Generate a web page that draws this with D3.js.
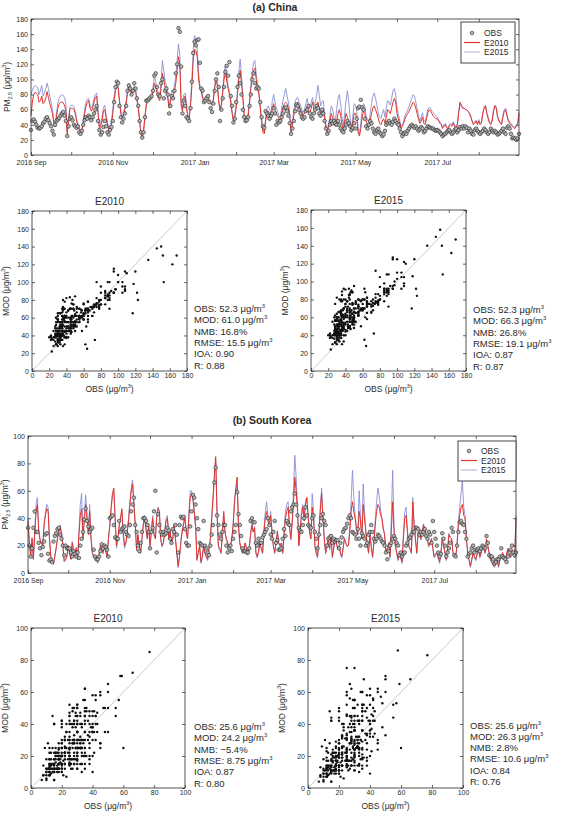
<!DOCTYPE html>
<html>
<head>
<meta charset="utf-8">
<script src="https://cdnjs.cloudflare.com/ajax/libs/d3/7.8.5/d3.min.js"></script>
<style>
  body { margin: 0; background: #fff; }
</style>
</head>
<body>
<svg id="fig" width="567" height="813"></svg>
<script>
// daily values, 2016-09-01 .. 2017-08-31 (one line per month)
const cnObs = [
  33,45,47,44,40,36,35,36,38,42,44,48,50,46,42,38,32,27,40,45,47,49,52,55,57,52,45,25,38,48,
  50,46,40,38,36,38,30,28,32,40,46,50,48,52,50,46,50,55,60,65,45,33,27,30,37,45,38,30,27,33,37,
  45,70,90,97,95,65,50,43,48,55,65,85,92,88,80,85,95,88,75,65,45,30,23,30,50,72,72,74,76,78,
  85,105,108,90,80,78,95,100,75,85,88,80,55,65,78,75,85,108,120,168,163,117,55,72,65,50,48,45,62,97,135,
  150,145,152,153,122,88,85,70,72,75,78,70,62,57,68,85,100,108,90,45,60,75,90,110,118,105,123,78,65,43,48,
  70,90,105,95,80,60,50,45,46,50,65,80,100,108,95,88,90,88,70,50,38,36,58,55,52,48,52,55,
  62,55,40,45,43,45,50,55,62,63,58,52,42,28,35,45,58,67,65,60,55,50,48,50,58,60,65,55,50,48,55,
  60,65,62,55,52,60,55,45,35,28,32,40,45,42,45,42,40,45,40,35,32,30,35,40,45,42,38,33,36,42,
  35,48,62,64,73,63,60,48,38,35,40,45,42,35,30,28,33,35,30,28,25,27,32,40,43,45,42,40,44,48,45,
  42,40,35,30,25,28,30,28,32,35,38,40,38,36,38,35,32,34,37,35,30,32,35,38,37,36,35,35,33,32,
  33,32,30,28,25,27,28,30,32,33,30,28,30,33,35,30,33,37,35,38,35,38,36,30,35,32,28,27,33,35,32,
  30,28,30,32,35,33,30,28,30,35,32,30,32,30,27,28,30,32,35,30,28,36,38,35,28,22,23,22,20,22,28
]
const cnE2010 = [
  52,70,80,83,82,80,70,72,78,68,70,75,84,76,68,62,55,42,37,50,62,68,70,70,69,66,58,28,44,60,
  62,62,60,55,45,38,34,30,32,42,55,64,70,72,62,58,62,70,76,78,55,35,38,45,58,60,50,40,33,36,40,
  55,72,85,92,88,70,55,48,52,60,68,82,90,86,80,82,88,84,72,62,45,28,22,32,50,66,72,74,76,78,
  82,95,90,82,75,72,88,108,100,90,85,75,62,70,80,76,85,95,112,130,120,65,58,75,78,62,50,48,65,92,125,
  140,138,130,100,88,84,75,70,73,76,74,72,68,66,72,88,100,92,70,60,65,82,100,110,98,88,80,70,55,45,50,
  62,80,100,112,95,75,52,45,44,52,68,88,100,112,115,100,88,80,62,45,30,28,45,55,58,55,50,62,
  68,60,55,52,48,45,55,62,68,70,68,62,50,30,40,52,62,68,70,64,60,55,52,56,60,64,58,55,62,70,60,
  62,66,70,62,55,58,60,48,35,30,38,45,55,50,42,38,45,55,60,52,40,35,45,55,50,45,38,30,42,55,
  55,48,30,25,35,50,58,55,45,40,38,45,55,62,65,60,55,48,42,40,45,48,42,50,60,58,55,62,70,75,70,
  55,48,42,35,38,42,48,52,55,58,62,66,70,68,62,55,48,42,45,50,42,40,48,56,60,58,55,52,50,48,
  48,45,42,40,35,38,40,36,34,38,40,38,42,38,35,40,55,70,66,62,62,60,60,58,55,50,45,40,42,45,40,
  45,40,42,55,62,65,55,48,42,40,45,58,65,62,50,45,42,40,50,58,60,52,45,42,40,38,36,35,38,40,55
]
const cnE2015 = [
  80,86,90,92,91,89,80,85,92,78,82,88,95,88,78,70,60,45,40,55,68,75,78,80,79,76,68,30,48,64,
  66,66,64,58,48,40,36,32,35,46,60,70,74,75,66,62,66,74,80,82,60,38,42,50,62,66,54,44,36,40,45,
  60,78,90,96,92,74,58,50,55,64,72,88,95,90,84,86,92,88,76,65,48,30,24,34,52,68,73,75,77,79,
  90,105,98,88,80,78,95,125,112,98,92,80,66,75,86,82,92,105,125,147,132,70,62,80,82,66,52,50,70,100,140,
  158,150,140,108,92,88,78,72,76,78,76,74,70,68,75,92,103,95,72,62,68,86,108,120,106,92,84,74,58,48,54,
  66,86,110,127,105,80,55,48,47,56,72,94,110,122,125,108,92,84,65,48,33,30,50,62,65,60,55,72,
  80,70,62,58,52,50,62,72,80,88,78,70,55,32,45,58,70,75,76,70,66,60,56,60,68,75,65,62,70,76,66,
  70,78,92,80,65,70,72,55,40,32,42,52,65,60,50,45,60,75,80,68,48,40,55,72,85,70,50,33,50,68,
  66,58,35,28,42,60,68,64,52,46,44,55,68,78,82,75,66,56,50,48,55,60,50,62,72,70,66,75,85,88,80,
  62,54,46,38,40,45,52,56,60,64,70,75,80,78,70,62,52,45,50,56,46,44,52,60,63,62,58,56,54,52,
  50,47,44,42,37,40,42,38,36,40,42,40,44,40,37,42,57,68,64,62,62,60,60,58,56,52,46,42,44,46,42,
  47,42,44,56,63,66,56,50,44,42,47,60,66,64,52,47,44,42,52,60,62,54,47,44,42,40,38,37,40,42,57
]

const krObs = [
  33,20,12,18,33,45,30,30,22,18,13,19,23,28,29,14,9,10,8,23,27,29,32,33,28,25,20,13,20,18,
  18,18,15,12,16,14,12,15,11,20,25,30,39,47,38,34,30,32,33,17,12,10,10,12,16,21,18,20,19,17,12,
  40,41,42,35,26,25,25,38,30,32,33,34,30,28,27,35,45,50,55,35,30,20,16,22,30,40,40,38,35,30,
  18,30,33,45,60,15,43,35,30,28,30,28,29,33,31,25,22,32,30,35,28,15,35,41,40,41,32,22,20,20,34,
  45,57,55,50,40,32,22,21,20,38,20,18,15,13,20,28,35,66,77,42,35,28,25,30,35,35,20,15,18,20,16,
  25,30,35,59,43,35,27,18,16,16,15,15,18,38,40,37,37,22,20,25,22,22,26,28,30,32,40,35,
  28,25,30,38,22,24,17,17,18,25,32,27,38,36,35,45,48,50,58,50,42,33,31,30,35,40,48,42,35,34,33,
  40,42,30,25,18,28,35,40,43,38,35,20,25,26,27,22,25,23,24,24,18,22,26,30,32,33,36,40,42,40,
  30,29,28,25,32,25,20,29,27,25,20,22,28,30,35,30,25,23,25,28,27,25,23,22,20,15,10,16,20,22,25,
  27,25,22,20,13,15,12,14,15,20,22,25,26,28,30,30,33,33,32,28,30,28,30,32,27,25,30,28,22,38,
  30,25,20,15,12,14,29,25,20,12,15,18,22,33,30,13,12,20,30,37,38,36,35,30,25,12,14,15,18,20,15,
  17,17,18,16,18,20,19,18,27,22,13,12,12,10,7,8,10,10,12,18,12,11,10,8,12,15,17,20,15,13,15
]
const krE2010 = [
  38,22,12,25,10,28,45,50,30,24,22,20,35,42,47,45,25,12,8,7,12,18,25,30,33,28,20,9,10,12,
  20,15,10,22,16,12,18,10,28,42,47,25,38,50,40,28,45,25,15,12,13,12,8,14,20,17,15,20,16,12,25,
  35,48,58,62,40,20,25,35,40,47,30,20,22,30,38,50,60,65,50,35,17,28,20,15,25,35,40,32,25,35,
  20,30,40,28,25,40,47,45,25,20,22,30,38,40,25,30,22,25,35,25,15,5,12,22,30,35,40,30,25,40,55,
  58,55,45,35,10,15,20,8,12,20,15,12,10,18,25,40,55,72,85,45,20,18,15,30,45,30,25,22,18,20,25,
  35,50,62,70,35,22,18,15,18,22,18,14,18,28,35,30,33,15,12,16,22,18,15,30,40,45,38,35,
  42,30,20,15,22,30,22,20,22,15,28,40,45,48,35,25,35,50,70,60,45,20,30,42,48,38,50,55,40,30,25,
  48,40,20,15,12,28,45,58,40,25,15,20,25,18,28,12,18,25,22,18,20,15,12,18,25,22,20,20,30,45,
  52,45,40,32,28,45,38,25,50,40,30,22,15,28,20,12,22,35,45,50,48,42,40,32,28,15,18,22,12,30,52,
  30,20,15,10,15,12,8,25,40,42,30,20,18,15,52,35,25,15,30,28,25,30,35,32,28,24,20,22,25,18,
  12,14,15,12,8,15,25,20,15,10,18,28,26,25,15,14,12,20,35,42,48,50,42,40,25,15,10,5,10,15,12,
  10,14,18,12,15,20,18,15,25,20,15,10,8,6,5,8,10,5,10,12,15,12,10,14,18,15,12,14,15,12,40
]
const krE2015 = [
  40,22,12,26,10,30,50,55,32,25,22,20,36,44,50,48,26,12,8,6,12,18,26,32,35,30,21,8,9,12,
  20,15,10,23,16,12,19,10,30,50,58,27,42,57,44,30,50,26,15,11,12,11,7,13,20,16,14,21,16,11,25,
  34,46,56,60,38,18,24,34,40,45,28,18,21,30,40,52,62,68,52,36,16,28,19,14,24,36,42,33,25,36,
  19,30,42,28,25,42,48,45,24,19,22,31,40,42,25,31,21,25,36,24,14,4,12,23,32,37,42,31,25,44,60,
  60,53,44,33,9,14,19,7,11,19,14,11,9,17,24,38,52,68,83,42,18,17,14,28,42,29,24,21,17,19,24,
  34,55,60,65,34,21,17,14,17,22,17,13,17,28,36,30,34,14,11,15,22,17,14,32,45,52,40,36,
  45,31,20,14,22,31,22,19,22,14,30,45,50,52,36,24,38,60,86,70,50,20,32,45,50,40,53,55,42,30,25,
  58,45,20,14,11,29,48,62,42,24,14,19,25,17,28,11,17,26,22,17,20,14,11,17,26,22,19,20,32,52,
  75,55,42,33,28,60,42,25,65,45,30,21,14,29,19,11,22,38,52,62,56,46,40,33,28,14,18,22,11,40,75,
  35,20,14,9,14,11,7,28,44,48,32,19,17,14,55,36,24,14,30,28,24,30,36,32,28,23,19,22,25,17,
  11,13,14,11,7,14,26,20,14,9,18,29,26,25,14,13,11,21,38,48,58,68,48,42,24,14,9,4,9,14,11,
  9,13,17,11,14,19,17,14,24,19,14,9,7,5,4,7,9,4,9,11,14,11,9,13,17,14,11,13,14,11,42
]

// statistics printed beside the scatter plots
const cnStats2010 = ['OBS: 52.3 μg/m^{3}', 'MOD: 61.0 μg/m^{3}', 'NMB: 16.8%', 'RMSE: 15.5 μg/m^{3}', 'IOA: 0.90', 'R: 0.88']
const cnStats2015 = ['OBS: 52.3 μg/m^{3}', 'MOD: 66.3 μg/m^{3}', 'NMB: 26.8%', 'RMSE: 19.1 μg/m^{3}', 'IOA: 0.87', 'R: 0.87']
const krStats2010 = ['OBS: 25.6 μg/m^{3}', 'MOD: 24.2 μg/m^{3}', 'NMB:  \u22125.4%', 'RMSE: 8.75 μg/m^{3}', 'IOA: 0.87', 'R: 0.80']
const krStats2015 = ['OBS: 25.6 μg/m^{3}', 'MOD: 26.3 μg/m^{3}', 'NMB: 2.8%', 'RMSE: 10.6 μg/m^{3}', 'IOA: 0.84', 'R: 0.76']

const legendNames = ['OBS', 'E2010', 'E2015']
const cnTicks = [0, 20, 40, 60, 80, 100, 120, 140, 160, 180]
const krTicks = [0, 20, 40, 60, 80, 100]

const FONT = '"Liberation Sans", Arial, Helvetica, sans-serif'
const INK = '#2a2a2a'
const RED = '#e3342b'
const BLUE = '#8a90d4'
const startDate = new Date(2016, 8, 1)
const endDate = new Date(2017, 7, 31)

const svg = d3.select('#fig')
svg.append('rect').attr('width', 567).attr('height', 813).attr('fill', '#fff')

// text with ^{sup} and _{sub} pieces
function rich(sel, str) {
  const fs = parseFloat(sel.attr('font-size'))
  let cur = 0
  str.split(/(\^\{[^}]*\}|_\{[^}]*\})/).filter(s => s.length).forEach(p => {
    let want = 0, txt = p, size = null
    if (p[0] === '^') { want = -fs * 0.42; txt = p.slice(2, -1); size = fs * 0.62 }
    if (p[0] === '_') { want = fs * 0.22; txt = p.slice(2, -1); size = fs * 0.62 }
    const t = sel.append('tspan').attr('dy', want - cur).text(txt)
    if (size) t.attr('font-size', size)
    cur = want
  })
  return sel
}

function label(x, y, str, size, anchor, weight) {
  const t = svg.append('text')
    .attr('x', x).attr('y', y)
    .attr('font-size', size)
    .attr('font-family', FONT)
    .attr('fill', INK)
    .attr('text-anchor', anchor || 'start')
  if (weight) t.attr('font-weight', weight)
  return rich(t, str)
}

function styleAxis(g) {
  g.attr('font-family', FONT).attr('font-size', 7)
  g.select('.domain').remove()
  g.selectAll('.tick line').attr('stroke', INK).attr('stroke-width', 0.7)
  g.selectAll('.tick text').attr('fill', INK)
}

function frame(l, t, r, b) {
  svg.append('rect').attr('x', l).attr('y', t).attr('width', r - l).attr('height', b - t)
    .attr('fill', 'none').attr('stroke', INK).attr('stroke-width', 0.8)
}

function drawSeries(o) {
  const x = d3.scaleTime().domain([startDate, endDate]).range([o.left, o.right])
  const y = d3.scaleLinear().domain([0, o.yMax]).range([o.bottom, o.top])
  const day = i => d3.timeDay.offset(startDate, i)
  const line = d3.line().x((d, i) => x(day(i))).y(d => y(d))

  svg.append('path').attr('d', line(o.e2015)).attr('fill', 'none')
    .attr('stroke', BLUE).attr('stroke-width', 0.9)
  svg.append('path').attr('d', line(o.e2010)).attr('fill', 'none')
    .attr('stroke', RED).attr('stroke-width', 1)
  svg.append('g').selectAll('circle').data(o.obs).join('circle')
    .attr('cx', (d, i) => x(day(i))).attr('cy', d => y(d)).attr('r', 1.8)
    .attr('fill', '#b5b5b5').attr('stroke', '#222').attr('stroke-width', 0.6)

  const months = d3.timeMonth.every(1)
  const fmt = d => d.getMonth() % 2 === 0 ? d3.timeFormat('%Y %b')(d) : ''
  svg.append('g').attr('transform', `translate(0,${o.bottom})`)
    .call(d3.axisBottom(x).ticks(months).tickFormat(fmt).tickSizeInner(-3).tickSizeOuter(0).tickPadding(5))
    .call(styleAxis)
  svg.append('g').attr('transform', `translate(0,${o.top})`)
    .call(d3.axisTop(x).ticks(months).tickFormat('').tickSizeInner(-3).tickSizeOuter(0))
    .call(styleAxis)
  svg.append('g').attr('transform', `translate(${o.left},0)`)
    .call(d3.axisLeft(y).tickValues(o.ticks).tickSizeInner(-3).tickSizeOuter(0).tickPadding(3))
    .call(styleAxis)
  svg.append('g').attr('transform', `translate(${o.right},0)`)
    .call(d3.axisRight(y).tickValues(o.ticks).tickFormat('').tickSizeInner(-3).tickSizeOuter(0))
    .call(styleAxis)
  frame(o.left, o.top, o.right, o.bottom)

  label((o.left + o.right) / 2, o.titleY, o.title, 10.5, 'middle', 'bold')
  const yl = label(0, 0, 'PM_{2.5} (μg/m^{3})', 8.5, 'middle')
  yl.attr('transform', `translate(${o.yLabelX},${(o.top + o.bottom) / 2}) rotate(-90)`)

  // legend
  const L = o.legend
  svg.append('rect').attr('x', L.x).attr('y', L.y).attr('width', L.w).attr('height', L.h)
    .attr('fill', '#fff').attr('stroke', '#444').attr('stroke-width', 1)
  legendNames.forEach((name, i) => {
    const ry = L.y + L.rows[i]
    if (i === 0) {
      svg.append('circle').attr('cx', L.x + 11).attr('cy', ry).attr('r', 1.8)
        .attr('fill', '#b5b5b5').attr('stroke', '#222').attr('stroke-width', 0.6)
    } else {
      svg.append('line').attr('x1', L.x + 3).attr('x2', L.x + 19).attr('y1', ry).attr('y2', ry)
        .attr('stroke', i === 1 ? RED : '#b9bbd6').attr('stroke-width', 1.2)
    }
    label(L.x + 23, ry + 3, name, 8.5, 'start')
  })
}

function drawScatter(o) {
  const x = d3.scaleLinear().domain([0, o.max]).range([o.left, o.right])
  const y = d3.scaleLinear().domain([0, o.max]).range([o.bottom, o.top])
  const n = Math.min(o.obs.length, o.mod.length)
  const pairs = d3.range(n).map(i => [o.obs[i], o.mod[i]])

  svg.append('line').attr('x1', x(0)).attr('y1', y(0)).attr('x2', x(o.max)).attr('y2', y(o.max))
    .attr('stroke', '#c4c4c4').attr('stroke-width', 0.9)
  svg.append('g').selectAll('circle').data(pairs).join('circle')
    .attr('cx', d => x(d[0])).attr('cy', d => y(d[1])).attr('r', 1.2).attr('fill', '#111')

  svg.append('g').attr('transform', `translate(0,${o.bottom})`)
    .call(d3.axisBottom(x).tickValues(o.ticks).tickSizeInner(-3).tickSizeOuter(0).tickPadding(2))
    .call(styleAxis)
  svg.append('g').attr('transform', `translate(0,${o.top})`)
    .call(d3.axisTop(x).tickValues(o.ticks).tickFormat('').tickSizeInner(-3).tickSizeOuter(0))
    .call(styleAxis)
  svg.append('g').attr('transform', `translate(${o.left},0)`)
    .call(d3.axisLeft(y).tickValues(o.ticks).tickSizeInner(-3).tickSizeOuter(0).tickPadding(3))
    .call(styleAxis)
  svg.append('g').attr('transform', `translate(${o.right},0)`)
    .call(d3.axisRight(y).tickValues(o.ticks).tickFormat('').tickSizeInner(-3).tickSizeOuter(0))
    .call(styleAxis)
  frame(o.left, o.top, o.right, o.bottom)

  const cx = (o.left + o.right) / 2
  label(cx, o.top - 6, o.title, 10, 'middle')
  label(cx, o.bottom + 21, 'OBS (μg/m^{3})', 8.5, 'middle')
  const yl = label(0, 0, 'MOD (μg/m^{3})', 8.5, 'middle')
  yl.attr('transform', `translate(${o.left - 23},${(o.top + o.bottom) / 2}) rotate(-90)`)

  o.stats.forEach((s, i) => label(o.statsX, o.statsY + i * 11.3, s, 9.5, 'start'))
}

// (a) China
drawSeries({
  title: '(a) China', titleY: 11, left: 31, right: 519, top: 19, bottom: 155,
  yMax: 180, ticks: cnTicks, yLabelX: 10,
  obs: cnObs, e2010: cnE2010, e2015: cnE2015,
  legend: { x: 461, y: 22, w: 54, h: 41, rows: [11, 20.5, 30] }
})
drawScatter({ title: 'E2010', left: 32, right: 187, top: 211, bottom: 371, max: 180, ticks: cnTicks,
  obs: cnObs, mod: cnE2010, stats: cnStats2010, statsX: 194, statsY: 312 })
drawScatter({ title: 'E2015', left: 311, right: 466, top: 210, bottom: 371, max: 180, ticks: cnTicks,
  obs: cnObs, mod: cnE2015, stats: cnStats2015, statsX: 473, statsY: 313 })

// (b) South Korea
drawSeries({
  title: '(b) South Korea', titleY: 424, left: 28, right: 516, top: 436, bottom: 573,
  yMax: 100, ticks: krTicks, yLabelX: 8,
  obs: krObs, e2010: krE2010, e2015: krE2015,
  legend: { x: 458, y: 441, w: 58, h: 40, rows: [10, 19.5, 29] }
})
drawScatter({ title: 'E2010', left: 31, right: 185, top: 628, bottom: 788, max: 100, ticks: krTicks,
  obs: krObs, mod: krE2010, stats: krStats2010, statsX: 194, statsY: 730 })
drawScatter({ title: 'E2015', left: 308, right: 463, top: 628, bottom: 788, max: 100, ticks: krTicks,
  obs: krObs, mod: krE2015, stats: krStats2015, statsX: 470, statsY: 728.5 })
</script>
</body>
</html>
